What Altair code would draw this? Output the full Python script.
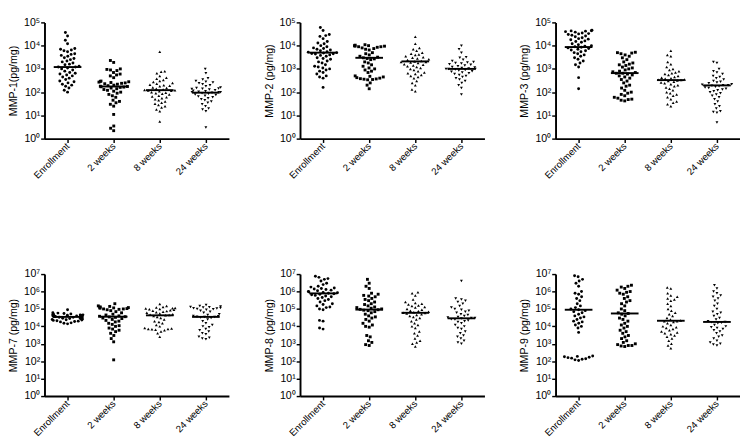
import math
import altair as alt
import pandas as pd

groups = ["Enrollment", "2 weeks", "8 weeks", "24 weeks"]
shapes = ["circle", "square", "triangle-up", "triangle-down"]
titles = ["MMP-1(pg/mg)", "MMP-2 (pg/mg)", "MMP-3 (pg/mg)",
          "MMP-7 (pg/mg)", "MMP-8 (pg/mg)", "MMP-9 (pg/mg)"]
max_exp = [5, 5, 5, 7, 7, 7]

# ---- MMP-1 ----
mmp1_enr = [37000, 26000, 17000, 12000, 7500, 7000, 6500, 6000, 5500, 4500, 4200, 3800, 3500, 3000, 2800,
            2500, 2200, 2000, 1800, 1600, 1500, 1300, 1200, 1200, 1100, 1000, 900, 800, 700, 650, 600, 550,
            500, 450, 400, 350, 300, 280, 250, 220, 200, 180, 150, 120, 100]
mmp1_w2 = [2300, 1900, 1000, 950, 900, 850, 700, 600, 550, 500, 420, 300, 290, 280, 270, 260, 250, 240, 230,
           220, 200, 190, 180, 175, 170, 165, 160, 150, 140, 130, 120, 110, 100, 90, 80, 70, 60, 45, 40, 35,
           30, 25, 11, 3.5, 2.8, 2.2]
mmp1_w8 = [5500, 800, 750, 650, 500, 420, 380, 330, 300, 270, 250, 230, 210, 200, 190, 180, 160, 150, 140,
           130, 125, 120, 118, 115, 110, 100, 95, 90, 85, 80, 70, 65, 60, 55, 50, 45, 40, 35, 32, 28, 25, 22,
           18, 15, 5.5]
mmp1_w24 = [1000, 650, 400, 350, 300, 280, 260, 240, 220, 200, 180, 160, 150, 145, 140, 135, 130, 120, 115,
            110, 105, 100, 100, 98, 95, 90, 85, 80, 75, 70, 65, 60, 55, 50, 45, 40, 35, 30, 25, 20, 18, 15, 3]

# ---- MMP-2 ----
mmp2_enr = [60000, 45000, 30000, 27000, 25000, 20000, 15000, 13000, 12000, 10000, 9000, 8000, 7500, 7000,
            6500, 6000, 5500, 5200, 5000, 4800, 4600, 4500, 4400, 4000, 3800, 3500, 3000, 2800, 2600, 2200,
            2000, 1800, 1500, 1300, 1200, 1100, 1000, 900, 800, 700, 600, 500, 450, 400, 160]
mmp2_w2 = [11000, 10500, 10000, 10000, 9500, 9500, 9000, 9000, 8500, 8000, 7500, 7000, 6500, 5000, 4500,
           4000, 3500, 3200, 3000, 2800, 2700, 2500, 2000, 1800, 1500, 1300, 1100, 1000, 900, 800, 700, 500,
           480, 450, 420, 400, 380, 370, 360, 350, 340, 250, 200, 140]
mmp2_w8 = [24000, 12000, 8000, 7000, 6000, 5000, 4500, 4200, 4000, 3500, 3200, 3000, 2800, 2600, 2400, 2200,
           2100, 2000, 2000, 1900, 1800, 1600, 1500, 1400, 1300, 1200, 1100, 1000, 900, 800, 700, 650, 600,
           550, 500, 450, 400, 300, 250, 200, 130, 110]
mmp2_w24 = [10000, 7000, 5000, 3200, 3000, 2500, 2200, 2000, 1900, 1800, 1700, 1600, 1500, 1400, 1300, 1200,
            1150, 1100, 1050, 1000, 1000, 980, 950, 900, 850, 800, 750, 700, 650, 600, 550, 500, 450, 400,
            350, 300, 250, 200, 150, 80]

# ---- MMP-3 ----
mmp3_enr = [46000, 44000, 43000, 42000, 40000, 38000, 35000, 33000, 32000, 30000, 28000, 26000, 24000,
            22000, 20000, 19000, 18000, 16000, 15000, 14000, 12000, 11000, 10000, 9500, 9000, 8500, 8000,
            7500, 7000, 6500, 6000, 5500, 5000, 4500, 4000, 3500, 3000, 2600, 2200, 1800, 1500, 1200, 420, 140]
mmp3_w2 = [5200, 5000, 4800, 4500, 4000, 3500, 3000, 2500, 2000, 1800, 1600, 1500, 1400, 1200, 1100, 1000,
           900, 800, 750, 700, 650, 650, 600, 550, 500, 450, 400, 350, 300, 250, 200, 180, 150, 120, 100, 90,
           80, 70, 60, 55, 50, 48, 45, 42]
mmp3_w8 = [6000, 4000, 3500, 2000, 1600, 1200, 1000, 900, 800, 700, 650, 600, 550, 500, 450, 420, 400, 380,
           350, 340, 330, 320, 300, 280, 260, 240, 220, 200, 180, 160, 140, 120, 100, 90, 80, 70, 60, 50, 40,
           35, 30, 25]
mmp3_w24 = [2000, 1800, 1000, 800, 700, 600, 500, 450, 400, 350, 300, 280, 260, 240, 220, 210, 200, 200, 190,
            180, 170, 160, 150, 140, 130, 120, 110, 100, 90, 80, 70, 60, 50, 40, 30, 25, 20, 15, 14, 13, 5]

# ---- MMP-7 ----
mmp7_enr = [90000, 60000, 58000, 55000, 52000, 50000, 48000, 46000, 45000, 44000, 42000, 41000, 40000,
            39000, 38000, 37000, 36500, 36000, 35000, 35000, 34000, 33500, 33000, 32000, 31000, 30500, 30000,
            29000, 28500, 28000, 27000, 26000, 25000, 24000, 23000, 22000, 21000, 20000, 19000, 18000, 16000,
            15000, 14000]
mmp7_w2 = [200000, 150000, 140000, 130000, 125000, 120000, 115000, 110000, 105000, 100000, 100000, 95000,
           90000, 80000, 70000, 60000, 50000, 45000, 40000, 38000, 36000, 35000, 33000, 30000, 28000, 25000,
           22000, 20000, 18000, 15000, 13000, 11000, 10000, 8000, 7000, 6000, 5000, 4000, 3000, 2000, 1300, 120]
mmp7_w8 = [190000, 150000, 130000, 120000, 115000, 110000, 105000, 100000, 95000, 90000, 85000, 80000,
           75000, 70000, 65000, 60000, 55000, 50000, 47000, 45000, 43000, 40000, 35000, 30000, 25000, 20000,
           18000, 15000, 12000, 10000, 8000, 7500, 7000, 7000, 6800, 6500, 6000, 5000, 4000, 2500]
mmp7_w24 = [170000, 150000, 140000, 130000, 125000, 120000, 115000, 110000, 105000, 100000, 95000, 90000,
            80000, 70000, 60000, 50000, 45000, 40000, 38000, 36000, 35000, 34000, 32000, 30000, 25000, 20000,
            15000, 12000, 10000, 9000, 7000, 6000, 5000, 4000, 3500, 2500, 2200, 2000, 1800]

# ---- MMP-8 ----
mmp8_enr = [7500000, 6500000, 5500000, 5000000, 4000000, 3000000, 2500000, 2000000, 1800000, 1600000,
            1500000, 1400000, 1300000, 1200000, 1100000, 1000000, 950000, 900000, 850000, 800000, 750000,
            700000, 650000, 600000, 550000, 500000, 450000, 400000, 350000, 300000, 250000, 200000, 180000,
            150000, 130000, 120000, 100000, 90000, 22000, 20000, 8000, 7000]
mmp8_w2 = [5000000, 3000000, 2000000, 1500000, 800000, 700000, 600000, 550000, 500000, 400000, 350000,
           300000, 250000, 200000, 180000, 150000, 130000, 120000, 110000, 100000, 95000, 90000, 85000, 80000,
           70000, 60000, 50000, 40000, 35000, 30000, 25000, 20000, 15000, 12000, 10000, 9000, 3000, 2500,
           1500, 1200, 900, 800]
mmp8_w8 = [900000, 800000, 600000, 350000, 250000, 220000, 200000, 180000, 160000, 150000, 130000, 120000,
           100000, 90000, 80000, 75000, 70000, 65000, 60000, 58000, 55000, 50000, 45000, 40000, 35000, 30000,
           25000, 20000, 15000, 12000, 10000, 8000, 5000, 4000, 3000, 2000, 1500, 1200, 1000, 700]
mmp8_w24 = [4000000, 400000, 350000, 300000, 250000, 200000, 150000, 120000, 100000, 90000, 80000, 70000,
            60000, 50000, 45000, 40000, 35000, 32000, 30000, 30000, 28000, 26000, 25000, 22000, 20000, 18000,
            15000, 12000, 10000, 8000, 7000, 5000, 4000, 3000, 2500, 2000, 1500, 1200, 1000]

# ---- MMP-9 ----
mmp9_enr = [8000000, 7000000, 5000000, 4000000, 3000000, 2000000, 1000000, 800000, 700000, 500000, 400000,
            300000, 200000, 150000, 120000, 100000, 90000, 80000, 70000, 60000, 50000, 40000, 35000, 30000,
            25000, 20000, 18000, 15000, 12000, 10000, 8000, 4500, 200, 190, 180, 170, 160, 150, 140, 130,
            120, 110]
mmp9_w2 = [2300000, 2000000, 1800000, 1500000, 1200000, 1000000, 900000, 800000, 700000, 500000, 400000,
           300000, 250000, 200000, 150000, 100000, 80000, 60000, 55000, 50000, 40000, 30000, 25000, 20000,
           15000, 12000, 10000, 8000, 6000, 5000, 4000, 3000, 2500, 2000, 1500, 1200, 1000, 900, 800, 800,
           750, 700]
mmp9_w8 = [1700000, 1500000, 800000, 600000, 500000, 400000, 350000, 300000, 200000, 150000, 100000, 80000,
           60000, 50000, 40000, 30000, 25000, 22000, 20000, 20000, 18000, 15000, 12000, 10000, 9000, 8000,
           7000, 6000, 5000, 4500, 4000, 3500, 3000, 2500, 2000, 1500, 1000, 800, 550]
mmp9_w24 = [2300000, 1500000, 1000000, 800000, 600000, 500000, 400000, 300000, 200000, 150000, 100000,
            70000, 60000, 50000, 40000, 30000, 25000, 20000, 18000, 17000, 16000, 15000, 12000, 10000, 9000,
            8000, 7000, 6000, 5000, 4000, 3000, 2500, 2000, 1500, 1200, 1000, 900, 800]

panels_data = [
    [mmp1_enr, mmp1_w2, mmp1_w8, mmp1_w24],
    [mmp2_enr, mmp2_w2, mmp2_w8, mmp2_w24],
    [mmp3_enr, mmp3_w2, mmp3_w8, mmp3_w24],
    [mmp7_enr, mmp7_w2, mmp7_w8, mmp7_w24],
    [mmp8_enr, mmp8_w2, mmp8_w8, mmp8_w24],
    [mmp9_enr, mmp9_w2, mmp9_w8, mmp9_w24],
]

medians = [
    [1200, 175, 122, 95],
    [5000, 3000, 2100, 1000],
    [8700, 660, 330, 195],
    [35000, 36000, 43000, 35000],
    [780000, 92000, 60000, 29000],
    [90000, 55000, 21000, 18000],
]

W = 192
HEIGHTS = [121, 121, 121, 127, 127, 127]
BAND = W / 4.0
SX = 3.8    # horizontal spacing of dots in a row (px)
SY = 4.6    # vertical distance below which dots must sit side by side (px)
LIMIT = 16  # max half-width of a swarm (px)


def swarm_offsets(vals, px_per_dec):
    """Beeswarm layout (elliptical collision) giving horizontal pixel offsets."""
    order = sorted(range(len(vals)), key=lambda i: vals[i])
    placed = []
    offs = [0.0] * len(vals)
    for i in order:
        y = math.log10(vals[i]) * px_per_dec
        intervals = []
        for (py, px) in placed:
            dy = abs(py - y)
            if dy < SY:
                half = SX * math.sqrt(1 - (dy / SY) ** 2)
                intervals.append((px - half, px + half))
        cands = [0.0]
        for a, b in intervals:
            cands += [a, b]
        cands.sort(key=lambda c: (abs(c), c))
        best = None
        for c in cands:
            if all(not (a + 1e-6 < c < b - 1e-6) for a, b in intervals):
                best = c
                break
        if best is None:
            best = 0.0
        if abs(best) > LIMIT:
            best = math.copysign(LIMIT - (len(placed) % 5) * 0.7, best)
        placed.append((y, best))
        offs[i] = best
    return offs


sup = "['\u2070','\u00b9','\u00b2','\u00b3','\u2074','\u2075','\u2076','\u2077']"
x_label_expr = "['Enrollment','2 weeks','8 weeks','24 weeks'][round(datum.value)]"
y_label_expr = "'10' + " + sup + "[round(log(datum.value)/LN10)]"


def make_panel(k):
    e = max_exp[k]
    h = HEIGHTS[k]
    px_per_dec = h / e
    rows = []
    for gi, vals in enumerate(panels_data[k]):
        offs = swarm_offsets(vals, px_per_dec)
        for v, o in zip(vals, offs):
            rows.append({"group": groups[gi], "value": v, "xpos": gi + o / BAND})
    df = pd.DataFrame(rows)
    mdf = pd.DataFrame({
        "group": groups,
        "median": medians[k],
        "x1": [i - 0.3 for i in range(4)],
        "x2": [i + 0.3 for i in range(4)],
    })
    xscale = alt.Scale(domain=[-0.5, 3.5], nice=False, zero=False)
    yscale = alt.Scale(type="log", domain=[1, 10 ** e], nice=False)
    xaxis = alt.Axis(values=[0, 1, 2, 3], labelExpr=x_label_expr, title=None, labelAngle=-45,
                     labelAlign="right", labelBaseline="middle", labelPadding=2, tickSize=4,
                     labelFontSize=10)
    yaxis = alt.Axis(values=[10 ** i for i in range(e + 1)], labelExpr=y_label_expr, title=titles[k],
                     tickSize=4, labelPadding=1, titlePadding=5, labelFontSize=11)
    pts = alt.Chart(df).mark_point(filled=True, size=9, opacity=1, color="black", strokeWidth=0).encode(
        x=alt.X("xpos:Q", scale=xscale, axis=xaxis),
        y=alt.Y("value:Q", scale=yscale, axis=yaxis),
        shape=alt.Shape("group:N", scale=alt.Scale(domain=groups, range=shapes), legend=None),
    )
    med = alt.Chart(mdf).mark_rule(color="black", strokeWidth=2).encode(
        x=alt.X("x1:Q", scale=xscale),
        x2="x2:Q",
        y=alt.Y("median:Q", scale=yscale),
    )
    return alt.layer(pts, med).properties(width=W, height=h)


row1 = alt.hconcat(*[make_panel(k) for k in range(3)], spacing=36)
row2 = alt.hconcat(*[make_panel(k) for k in range(3, 6)], spacing=36)

chart = alt.vconcat(row1, row2, spacing=91).properties(padding=0).configure_view(
    stroke=None
).configure_axis(
    grid=False,
    domainColor="black",
    domainWidth=2,
    tickColor="black",
    tickWidth=1.5,
    labelColor="black",
    labelFont="Liberation Sans",
    titleFont="Liberation Sans",
    titleFontSize=11,
    titleFontWeight="normal",
    titleColor="black",
)

chart.save("out.html", embed_options={"renderer": "svg", "actions": False})
